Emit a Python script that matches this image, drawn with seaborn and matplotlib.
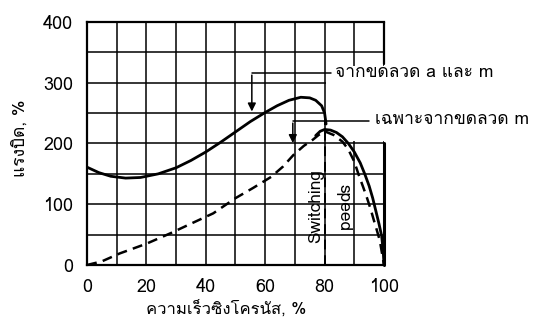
import seaborn as sns
import matplotlib
matplotlib.use("Agg")
import matplotlib.pyplot as plt
from matplotlib import font_manager, ft2font
import pandas as pd

# Torque vs synchronous speed
speed_am = [0, 4, 8, 13, 18, 24, 30, 35, 40, 45, 50, 55, 60, 64, 68, 72, 75, 77, 79, 80, 80.5]
torque_am = [161, 152, 146, 143, 144, 150, 160, 172, 186, 202, 219, 236, 251, 262, 271, 276, 275, 271, 262, 250, 232]

speed_m = [77, 78.5, 80, 82, 84, 86, 88, 90, 92, 93.5, 95, 96.2, 97.3, 98.3, 99.2, 99.7, 100]
torque_m = [213, 220, 223, 222, 218, 211, 200, 186, 168, 150, 130, 110, 88, 68, 48, 25, 0]

speed_load = [0, 5, 11, 20, 28, 35, 42.5, 50, 56, 62, 66, 69.5, 73, 76, 78, 80,
              83, 86, 88, 90, 91.5, 93, 94.3, 95.5, 96.5, 97.6, 98.6, 99.3, 100]
torque_load = [0, 6, 19, 35, 52, 68, 85, 110, 127, 145, 162, 181, 196, 206, 214, 220,
               214, 203, 190, 170, 148, 128, 110, 92, 75, 57, 40, 20, 0]

x_ticks = [0, 20, 40, 60, 80, 100]
y_ticks = [0, 100, 200, 300, 400]

label_am = "จากขดลวด a และ m"
label_m = "เฉพาะจากขดลวด m"
x_label = "ความเร็วซิงโครนัส, %"
y_label = "แรงบิด, %"


def thai_family():
    # first installed font that has Thai glyphs
    for f in font_manager.fontManager.ttflist:
        try:
            if 0x0E01 in ft2font.FT2Font(f.fname).get_charmap():
                return f.name
        except Exception:
            pass
    return None


sns.set_theme(style="white")
thai = thai_family()
plt.rcParams["font.family"] = ([thai] if thai else []) + ["DejaVu Sans"]

fig = plt.figure(figsize=(5.42, 3.22), dpi=100)
ax = fig.add_axes([0.1605, 0.177, 0.548, 0.755])

df_am = pd.DataFrame({"speed": speed_am, "torque": torque_am})
df_m = pd.DataFrame({"speed": speed_m, "torque": torque_m})
df_load = pd.DataFrame({"speed": speed_load, "torque": torque_load})

sns.lineplot(data=df_am, x="speed", y="torque", sort=False, estimator=None,
             color="black", lw=2, ax=ax, zorder=5)
sns.lineplot(data=df_m, x="speed", y="torque", sort=False, estimator=None,
             color="black", lw=2, ax=ax, zorder=5)
sns.lineplot(data=df_load, x="speed", y="torque", sort=False, estimator=None,
             color="black", lw=1.8, ax=ax, zorder=5)
ax.lines[-1].set_dashes((4, 2.5))

ax.set_xlim(0, 100)
ax.set_ylim(0, 400)
ax.set_xticks(x_ticks)
ax.set_yticks(y_ticks)
ax.set_xticks(range(0, 101, 10), minor=True)
ax.set_yticks(range(0, 401, 50), minor=True)
ax.grid(True, which="both", color="black", lw=1.1)
ax.tick_params(which="both", length=0, labelsize=13, colors="black")
ax.tick_params(axis="x", pad=9)
ax.tick_params(axis="y", pad=10)
for s in ["left", "bottom", "top"]:
    ax.spines[s].set_color("black")
    ax.spines[s].set_linewidth(1.6)
ax.spines["right"].set_visible(False)

# blank area where the labels sit
ax.add_patch(plt.Rectangle((80.4, 204), 22, 124, facecolor="white",
                           edgecolor="none", zorder=2, clip_on=False))
ax.plot([100, 100], [0, 200], color="black", lw=2.2, zorder=3, clip_on=False)
ax.plot([100, 100], [330, 400], color="black", lw=1.6, zorder=3, clip_on=False)
ax.plot([80, 80], [0, 250], color="black", lw=1.4, ls=(0, (5, 3)), zorder=3)

# leader lines
ax.plot([55.5, 82], [316, 316], color="black", lw=1.1, zorder=4, clip_on=False)
ax.annotate("", xy=(55.5, 248), xytext=(55.5, 317),
            arrowprops=dict(arrowstyle="-|>", color="black", lw=1.1), zorder=4)
ax.plot([69.3, 95], [237, 237], color="black", lw=1.1, zorder=4, clip_on=False)
ax.annotate("", xy=(69.3, 196), xytext=(69.3, 238),
            arrowprops=dict(arrowstyle="-|>", color="black", lw=1.1), zorder=4)

ax.text(83.5, 316, label_am, fontsize=12.5, va="center", ha="left", color="black")
ax.text(97, 238, label_m, fontsize=12.5, va="center", ha="left", color="black")
ax.text(77, 97, "Switching", rotation=90, fontsize=12.5, va="center", ha="center",
        color="black", zorder=6)
ax.text(86.3, 95, "speed", rotation=270, fontsize=12.5, va="center", ha="center",
        color="black", zorder=6)

ax.set_xlabel(x_label, fontsize=12, color="black")
ax.xaxis.set_label_coords(0.468, -0.145)
ax.set_ylabel(y_label, fontsize=12.5, color="black")
ax.yaxis.set_label_coords(-0.195, 0.52)

fig.savefig("out.png", dpi=100, facecolor="white")
